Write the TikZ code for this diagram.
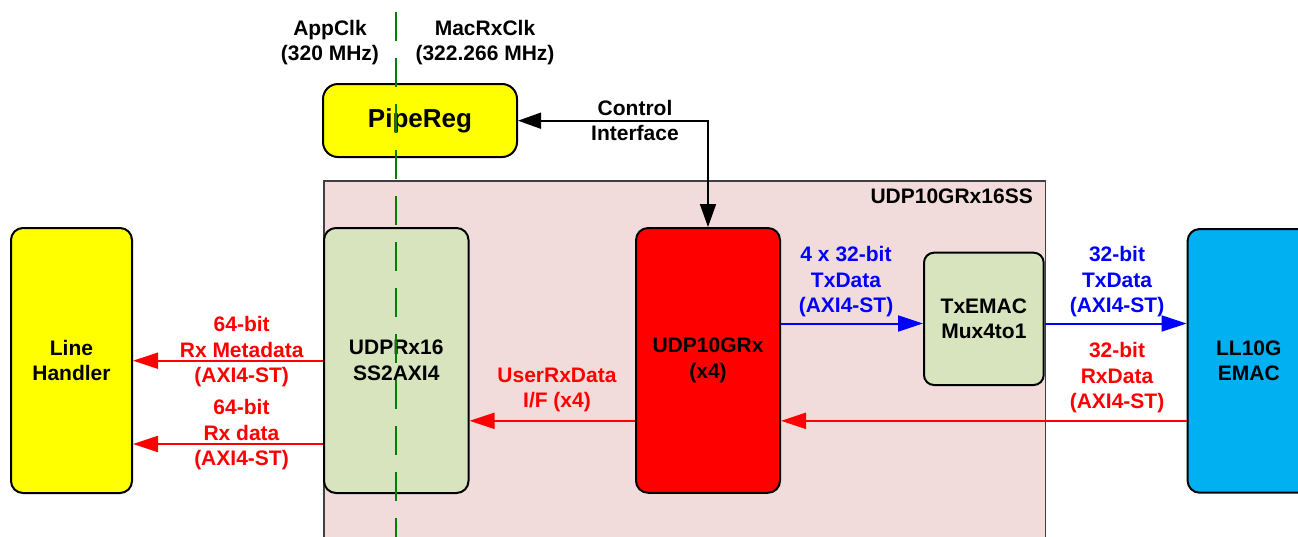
\documentclass[tikz,border=0pt]{standalone}
\usepackage{fontspec}
\setmainfont{Liberation Sans}
\usetikzlibrary{arrows.meta}

\definecolor{blkyellow}{RGB}{255,255,0}
\definecolor{blksage}{RGB}{215,228,189}
\definecolor{blkred}{RGB}{255,0,0}
\definecolor{blkcyan}{RGB}{0,176,240}
\definecolor{sspink}{RGB}{242,220,219}
\definecolor{ssborder}{RGB}{64,64,64}
\definecolor{sigred}{RGB}{255,0,0}
\definecolor{sigblue}{RGB}{0,0,255}
\definecolor{clkgreen}{RGB}{0,128,0}

\newcommand\lblfont{\fontsize{21}{25.5}\selectfont\bfseries}
\newcommand\bigfont{\fontsize{26}{30}\selectfont\bfseries}

\begin{document}
\begin{tikzpicture}[x=1pt,y=-1pt,
  blk/.style={draw=black, line width=2pt, rounded corners=12pt, inner sep=0pt,
              align=center, font=\lblfont},
  lbl/.style={inner sep=0pt, align=center, font=\lblfont},
  tip/.style={-{Triangle[length=25pt,width=16pt]}},
  redsig/.style={tip, draw=sigred, fill=sigred, line width=2pt},
  bluesig/.style={tip, draw=sigblue, fill=sigblue, line width=2pt},
  ctlsig/.style={{Triangle[length=23pt,width=16pt]}-{Triangle[length=23pt,width=16pt]}, draw=black, line width=1.6pt},
  clk/.style={draw=clkgreen, line width=1.8pt, dash pattern=on 29pt off 17pt}
]
\useasboundingbox (0,0) rectangle (1298,536);

% subsystem frame
\node[draw=ssborder, fill=sspink, line width=1.5pt, inner sep=0pt,
      minimum width=721.5pt, minimum height=400pt, anchor=north west] (ss) at (323,180) {};
\node[lbl, anchor=east] (sslabel) at (1033,196.7) {UDP10GRx16SS};

% clock domain labels
\node[lbl] (appclk) at (330,42.5) {AppClk\\(320 MHz)};
\node[lbl] (macclk) at (485,42.5) {MacRxClk\\(322.266 MHz)};

% blocks
\node[blk, fill=blkyellow, rounded corners=15pt, minimum width=194pt, minimum height=73pt, font=\bigfont]
  (pipe) at (420,120.5) {PipeReg};
\node[blk, fill=blkyellow, minimum width=121pt, minimum height=265pt]
  (lh) at (71.5,360.5) {Line\\Handler};
\node[blk, fill=blksage, minimum width=144.5pt, minimum height=265pt]
  (udprx) at (396.25,360.5) {UDPRx16\\SS2AXI4};
\node[blk, fill=blkred, minimum width=144pt, minimum height=264.7pt]
  (udp) at (708,360.4) {UDP10GRx\\(x4)};
\node[blk, fill=blksage, rounded corners=10pt, minimum width=119.7pt, minimum height=132.3pt]
  (mux) at (983.85,318.85) {TxEMAC\\Mux4to1};
\node[blk, fill=blkcyan, minimum width=122.4pt, minimum height=263.7pt]
  (ll) at (1248.8,360.85) {LL10G\\EMAC};

% signal rows
\coordinate (rowctl) at (0,120.7);
\coordinate (rowtx) at (0,323.5);
\coordinate (rowrx) at (0,420.8);
\coordinate (rowmeta) at (0,360.7);
\coordinate (rowdata) at (0,444);

% control interface
\draw[ctlsig] (udp.north) -- (udp.north |- rowctl) -- (pipe.east |- rowctl);
\node[lbl] (ctllbl) at (635,120.3) {Control\\Interface};

% transmit path
\draw[bluesig] (udp.east |- rowtx) -- (mux.west |- rowtx);
\draw[bluesig] (mux.east |- rowtx) -- (ll.west |- rowtx);
\node[lbl, text=sigblue] (txlbl1) at (846,281.7) {4 x 32-bit\\TxData\\(AXI4-ST)};
\node[lbl, text=sigblue] (txlbl2) at (1117,282) {32-bit\\TxData\\(AXI4-ST)};

% receive path
\draw[redsig] (ll.west |- rowrx) -- (udp.east |- rowrx);
\node[lbl, text=sigred] (rxlbl) at (1117,378) {32-bit\\RxData\\(AXI4-ST)};
\draw[redsig] (udp.west |- rowrx) -- (udprx.east |- rowrx);
\node[lbl, text=sigred] (userlbl) at (557,389.7) {UserRxData\\I/F (x4)};
\draw[redsig] (udprx.west |- rowmeta) -- (lh.east |- rowmeta);
\node[lbl, text=sigred] (metalbl) at (241.7,351.7) {64-bit\\Rx Metadata\\(AXI4-ST)};
\draw[redsig] (udprx.west |- rowdata) -- (lh.east |- rowdata);
\node[lbl, text=sigred] (datalbl) at (241.5,435) {64-bit\\Rx data\\(AXI4-ST)};

% clock domain boundary
\coordinate (clktop) at (396,12);
\coordinate (clkbot) at (396,540);
\draw[clk] (clktop) -- (clkbot);
\end{tikzpicture}
\end{document}
